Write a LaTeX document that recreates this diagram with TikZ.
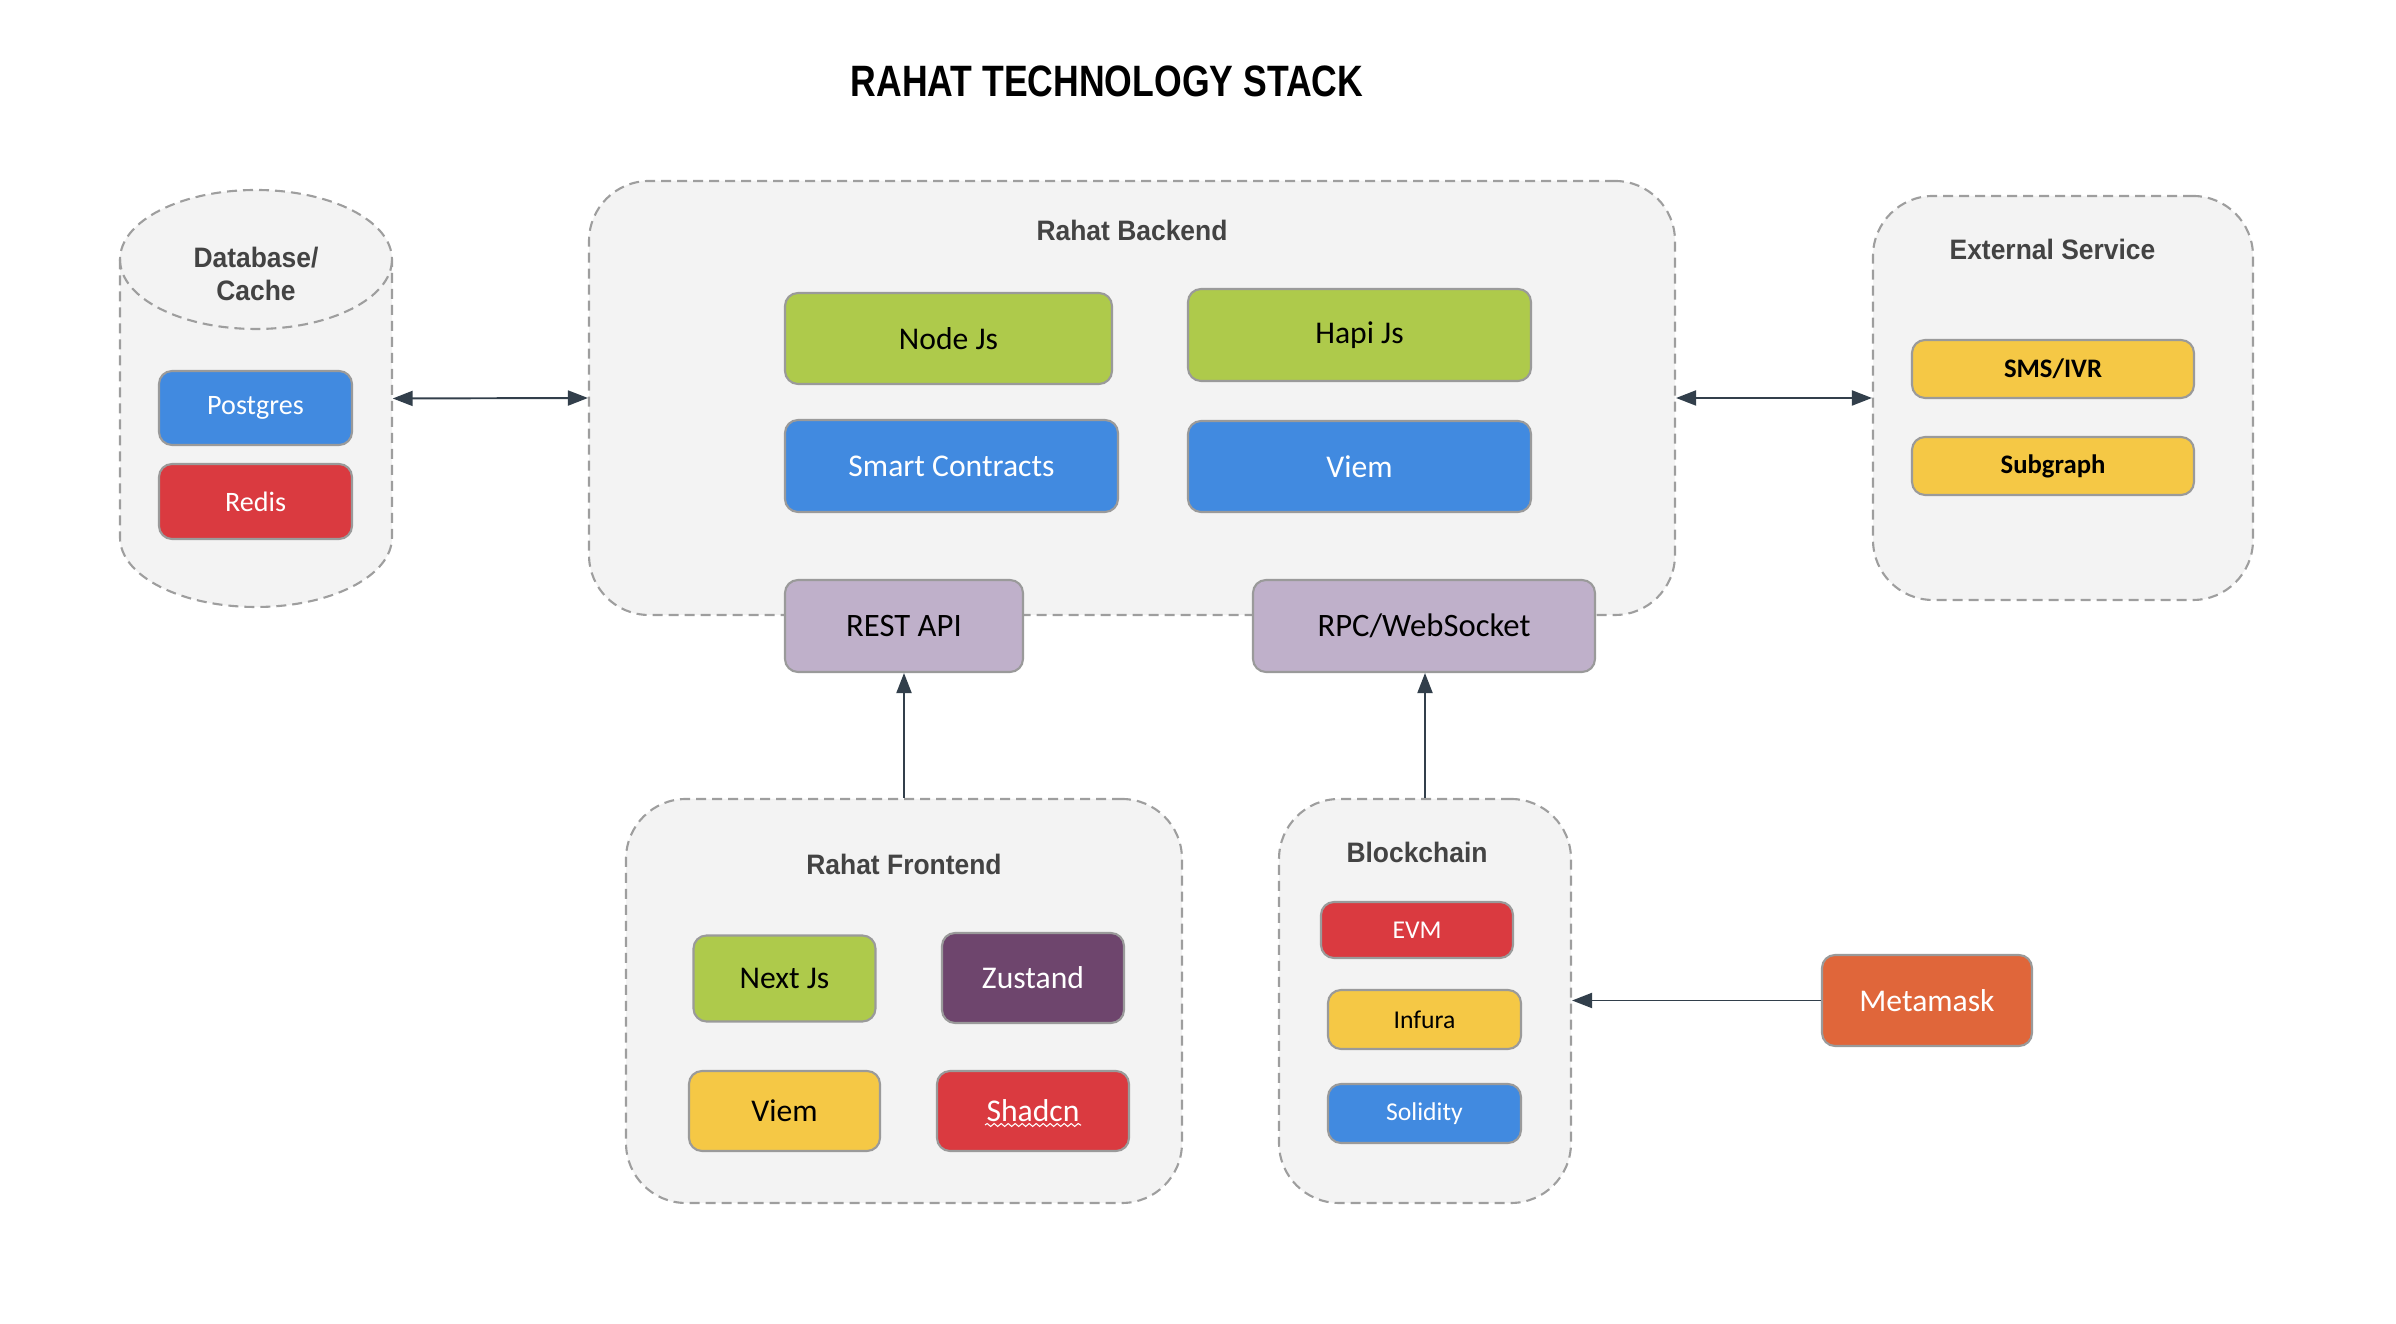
\documentclass[tikz,border=0pt]{standalone}
\usepackage{fontspec}
\usepackage{xcolor}
\usepackage{tikz}
\usetikzlibrary{arrows.meta,decorations.pathmorphing}
\setmainfont{Carlito}
\newfontfamily\headfont{Liberation Sans}[FakeStretch=0.94]
\newfontfamily\titlefont{Liberation Sans}[FakeStretch=0.81]

\definecolor{groupfill}{HTML}{F3F3F3}
\definecolor{groupline}{HTML}{9E9E9E}
\definecolor{boxline}{HTML}{9A9A9A}
\definecolor{techgreen}{HTML}{AECA4B}
\definecolor{techblue}{HTML}{418AE0}
\definecolor{techred}{HTML}{DA3A40}
\definecolor{techyellow}{HTML}{F5C845}
\definecolor{techlilac}{HTML}{BFB0CA}
\definecolor{techplum}{HTML}{6E456D}
\definecolor{techorange}{HTML}{E0663A}
\definecolor{linkcol}{HTML}{323F4B}
\definecolor{headgray}{HTML}{434343}

\begin{document}
\begin{tikzpicture}[x=0.1mm,y=0.1mm,
  group/.style={draw=groupline, fill=groupfill, line width=0.6pt, dash pattern=on 1mm off 0.6mm, rounded corners=6mm},
  tech/.style={draw=boxline, line width=0.6pt, rounded corners=1.3mm, inner sep=0pt, font=\fontsize{9}{11}\selectfont},
  heading/.style={font=\headfont\bfseries\fontsize{8}{9.4}\selectfont, text=headgray, align=center},
  link/.style={draw=linkcol, line width=0.55pt, -{Triangle[length=2mm,width=1.5mm]}},
  bilink/.style={link, {Triangle[length=2mm,width=1.5mm]}-{Triangle[length=2mm,width=1.5mm]}}]
  \useasboundingbox (0,0) rectangle (2396,1324);

  % Title
  \node[font=\titlefont\bfseries\fontsize{12.5}{15}\selectfont] (title) at (1107,1243) {RAHAT TECHNOLOGY STACK};

  % Database / cache (cylinder)
  \filldraw[draw=groupline, fill=groupfill, line width=0.6pt, dash pattern=on 1mm off 0.6mm]
    (120,1064.5) -- (120,786.5) arc[start angle=180, end angle=360, x radius=13.6mm, y radius=6.95mm]
    -- (392,1064.5) arc[start angle=0, end angle=180, x radius=13.6mm, y radius=6.95mm] -- cycle;
  \draw[draw=groupline, line width=0.6pt, dash pattern=on 1mm off 0.6mm]
    (120,1064.5) arc[start angle=180, end angle=360, x radius=13.6mm, y radius=6.95mm];
  \node[minimum width=27.2mm, minimum height=41.7mm] (db) at (256,925.5) {};
  \node[heading] (dbhead) at (256,1050.5) {Database/\\Cache};
  \node[tech, fill=techblue, text=white, minimum width=19.3mm, minimum height=7.4mm, font=\fontsize{8}{10}\selectfont] (postgres) at (255.5,916) {Postgres};
  \node[tech, fill=techred, text=white, minimum width=19.3mm, minimum height=7.5mm, font=\fontsize{8}{10}\selectfont] (redis) at (255.5,822.5) {Redis};

  % Backend
  \node[group, minimum width=108.6mm, minimum height=43.4mm] (backend) at (1132,926) {};
  \node[heading] (backhead) at (1132,1094) {Rahat Backend};
  \node[tech, fill=techgreen, minimum width=32.7mm, minimum height=9.1mm] (nodejs) at (948.5,985.5) {Node Js};
  \node[tech, fill=techgreen, minimum width=34.3mm, minimum height=9.2mm] (hapijs) at (1359.5,989) {Hapi Js};
  \node[tech, fill=techblue, text=white, minimum width=33.3mm, minimum height=9.2mm] (contracts) at (951.5,858) {Smart Contracts};
  \node[tech, fill=techblue, text=white, minimum width=34.3mm, minimum height=9.1mm] (viemback) at (1359.5,857.5) {Viem};
  \node[tech, fill=techlilac, minimum width=23.8mm, minimum height=9.2mm, font=\fontsize{9.3}{11}\selectfont] (restapi) at (904,698) {REST API};
  \node[tech, fill=techlilac, minimum width=34.2mm, minimum height=9.2mm, font=\fontsize{9.3}{11}\selectfont] (rpc) at (1424,698) {RPC/WebSocket};

  % External service
  \node[group, minimum width=38mm, minimum height=40.4mm] (external) at (2063,926) {};
  \node[heading] (exthead) at (2052.5,1075) {External Service};
  \node[tech, fill=techyellow, minimum width=28.2mm, minimum height=5.8mm, font=\bfseries\fontsize{7.6}{9}\selectfont] (sms) at (2053,955) {SMS/IVR};
  \node[tech, fill=techyellow, minimum width=28.2mm, minimum height=5.8mm, font=\bfseries\fontsize{7.6}{9}\selectfont] (subgraph) at (2053,858) {Subgraph};

  % Frontend
  \node[group, minimum width=55.6mm, minimum height=40.4mm] (frontend) at (904,323) {};
  \node[heading] (fronthead) at (904,460) {Rahat Frontend};
  \node[tech, fill=techgreen, minimum width=18.2mm, minimum height=8.6mm] (nextjs) at (784.5,345.5) {Next Js};
  \node[tech, fill=techplum, text=white, minimum width=18.2mm, minimum height=9mm] (zustand) at (1033,346) {Zustand};
  \node[tech, fill=techyellow, minimum width=19.1mm, minimum height=8mm] (viemfront) at (784.5,213) {Viem};
  \node[tech, fill=techred, text=white, minimum width=19.2mm, minimum height=8mm] (shadcn) at (1033,213) {Shadcn};
  \draw[white, line width=0.3pt, decorate, decoration={snake, amplitude=0.15mm, segment length=0.7mm}]
    ([xshift=-4.8mm,yshift=-1.4mm]shadcn.center) -- ([xshift=4.8mm,yshift=-1.4mm]shadcn.center);

  % Blockchain
  \node[group, minimum width=29.2mm, minimum height=40.4mm] (chain) at (1425,323) {};
  \node[heading] (chainhead) at (1417,472) {Blockchain};
  \node[tech, fill=techred, text=white, minimum width=19.2mm, minimum height=5.6mm, font=\fontsize{7.3}{9}\selectfont] (evm) at (1417,394) {EVM};
  \node[tech, fill=techyellow, minimum width=19.3mm, minimum height=5.9mm, font=\fontsize{7.3}{9}\selectfont] (infura) at (1424.5,304.5) {Infura};
  \node[tech, fill=techblue, text=white, minimum width=19.3mm, minimum height=5.9mm, font=\fontsize{7.3}{9}\selectfont] (solidity) at (1424.5,210.5) {Solidity};

  % Wallet
  \node[tech, fill=techorange, text=white, minimum width=21mm, minimum height=9.1mm] (metamask) at (1927,323.5) {Metamask};

  % Connections
  \draw[bilink] (db.east) -- (backend.west);
  \draw[bilink] (backend.east) -- (external.west);
  \draw[link] (frontend.north) -- (restapi.south);
  \draw[link] (chain.north) -- (chain.north |- rpc.south);
  \draw[link] (metamask.west) -- (metamask.west -| chain.east);
\end{tikzpicture}
\end{document}
